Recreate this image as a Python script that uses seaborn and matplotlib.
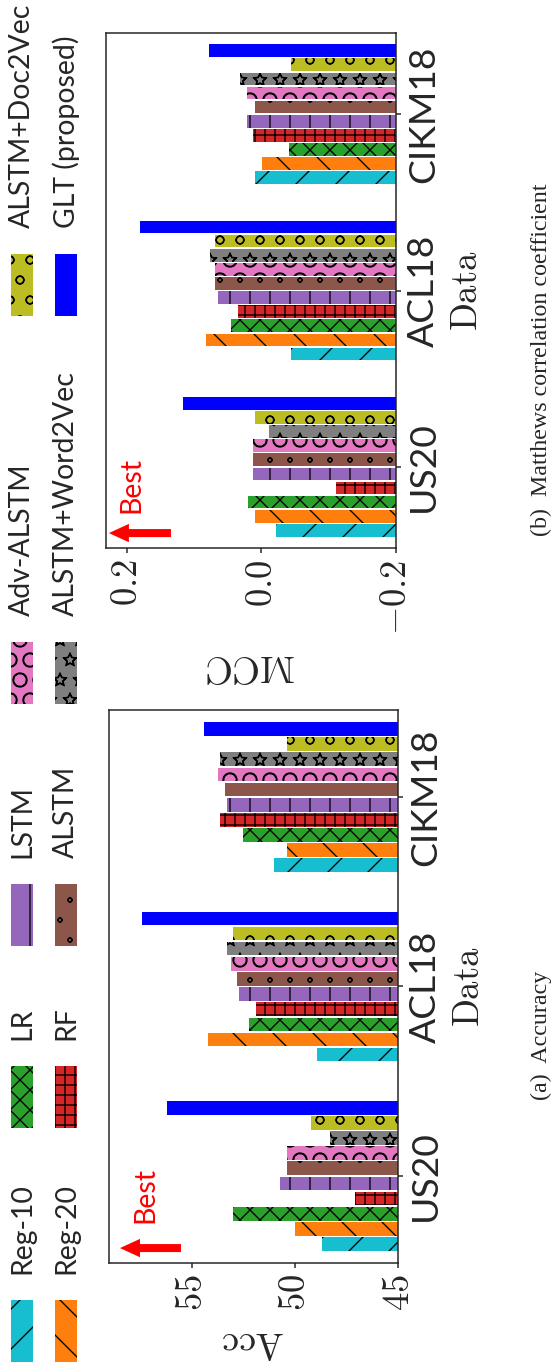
import matplotlib
matplotlib.use("Agg")
import matplotlib.pyplot as plt
import matplotlib.hatch as mhatch
from matplotlib.patches import Rectangle
import numpy as np
import pandas as pd
import seaborn as sns

# ---- data -------------------------------------------------------------
datasets = ["US20", "ACL18", "CIKM18"]
methods = ["Reg-10", "Reg-20", "LR", "RF", "LSTM", "ALSTM", "Adv-ALSTM",
           "ALSTM+Word2Vec", "ALSTM+Doc2Vec", "GLT (proposed)"]
colors = ["#17becf", "#ff7f0e", "#2ca02c", "#d62728", "#9467bd", "#8c564b",
          "#e377c2", "#7f7f7f", "#bcbd22", "#0000ff"]
hatches = ["//", "\\\\", "xxxx", "++++", "||", "..", "OO", "**", "oo", ""]

acc_us20 = [48.7, 50.0, 53.0, 47.1, 50.7, 50.4, 50.4, 48.3, 49.2, 56.2]
acc_acl18 = [48.9, 54.2, 52.2, 51.9, 52.7, 52.8, 53.1, 53.3, 53.0, 57.4]
acc_cikm18 = [51.0, 50.4, 52.5, 53.6, 53.3, 53.4, 53.7, 53.6, 50.4, 54.4]

mcc_us20 = [-0.021, 0.010, 0.020, -0.111, 0.013, 0.013, 0.013, -0.011, 0.010, 0.117]
mcc_acl18 = [-0.044, 0.083, 0.045, 0.035, 0.064, 0.069, 0.069, 0.076, 0.069, 0.181]
mcc_cikm18 = [0.009, -0.001, -0.041, 0.013, 0.022, 0.010, 0.022, 0.032, -0.044, 0.078]

acc_ticks = [45, 50, 55]
mcc_ticks = [-0.2, 0.0, 0.2]

df = pd.DataFrame({
    "Data": np.repeat(datasets, len(methods)),
    "Method": methods * len(datasets),
    "Acc": acc_us20 + acc_acl18 + acc_cikm18,
    "MCC": mcc_us20 + mcc_acl18 + mcc_cikm18,
})


# outlined (not solid) stars and dots for the '*' and '.' hatches
class OutlineStars(mhatch.Stars):
    filled = False


class OutlineDots(mhatch.SmallFilledCircles):
    filled = False


mhatch._hatch_types = [OutlineStars if t is mhatch.Stars else
                       OutlineDots if t is mhatch.SmallFilledCircles else t
                       for t in mhatch._hatch_types]

# ---- style ------------------------------------------------------------
sns.set_style("ticks")
plt.rcParams["font.family"] = ["Lato", "DejaVu Sans"]
plt.rcParams["mathtext.fontset"] = "cm"
plt.rcParams["hatch.linewidth"] = 0.4
plt.rcParams["axes.linewidth"] = 0.45
plt.rcParams["axes.edgecolor"] = "#222222"

W, H, DPI = 559, 1371, 240
fig = plt.figure(figsize=(W / DPI, H / DPI), dpi=DPI)


def fig_box(left, right, top, bottom):
    return [left / W, 1 - bottom / H, (right - left) / W, (bottom - top) / H]


def fx(px):
    return px / W


def fy(py):
    return 1 - py / H


def draw_panel(ax, col, base, lim, ticks, ticklabels, vlabel, best_xy):
    d = df.assign(length=df[col] - base)
    sns.barplot(data=d, x="length", y="Data", hue="Method", order=datasets,
                hue_order=methods, palette=colors, saturation=1, orient="h",
                errorbar=None, gap=0.1, left=base, edgecolor="black",
                linewidth=0, legend=False, ax=ax)
    for cont, h in zip(ax.containers, hatches):
        for bar in cont:
            bar.set_hatch(h)

    ax.set_xlim(lim, base)
    ax.set_ylim(-0.46, 2.46)
    for side in ["top", "right", "bottom", "left"]:
        ax.spines[side].set_visible(True)

    ax.set_xticks(ticks)
    ax.set_xticklabels(ticklabels, rotation=90, fontsize=11)
    ax.set_yticks(range(len(datasets)))
    ax.set_yticklabels(datasets, rotation=90, va="center", fontsize=11.2)
    ax.tick_params(axis="y", left=False, right=True, labelleft=False,
                   labelright=True, length=1.4, width=0.45, pad=2)
    ax.tick_params(axis="x", length=1.4, width=0.45, pad=2)

    ax.set_xlabel(vlabel, rotation=180, fontsize=11.5, labelpad=4)
    ax.yaxis.set_label_position("right")
    ax.set_ylabel(r"$\mathrm{Data}$", rotation=90, fontsize=11, labelpad=3)

    (hx, tx, ay, bx, by) = best_xy
    ax.annotate("", xy=(hx, ay), xytext=(tx, ay), xycoords="axes fraction",
                arrowprops=dict(arrowstyle="simple,head_length=0.6,head_width=0.55,tail_width=0.24",
                                color="red", mutation_scale=10, shrinkA=0, shrinkB=0,
                                linewidth=0))
    ax.text(bx, by, "Best", color="red", rotation=90, fontsize=8.5,
            ha="center", va="bottom", transform=ax.transAxes)


# (b) MCC panel (upper) and (a) accuracy panel (lower)
ax_b = fig.add_axes(fig_box(106, 396, 33, 548))
draw_panel(ax_b, "MCC", -0.2, 0.231, mcc_ticks,
           [r"$-0.2$", r"$0.0$", r"$0.2$"], r"$\mathrm{MCC}$",
           (0.01, 0.224, 0.029, 0.086, 0.068))

ax_a = fig.add_axes(fig_box(109, 398, 710, 1263))
draw_panel(ax_a, "Acc", 45, 59.0, acc_ticks,
           [r"$45$", r"$50$", r"$55$"], r"$\mathrm{Acc}$",
           (0.038, 0.249, 0.027, 0.125, 0.072))

# ---- legend (two columns of five entries) ------------------------------
col_x = [(11, 33), (55, 77)]
row_y = [(1300, 1362), (1066, 1128), (884, 946), (642, 704), (254, 316)]
for i, (name, c, h) in enumerate(zip(methods, colors, hatches)):
    row, col = i // 2, i % 2
    x0, x1 = col_x[col]
    y0, y1 = row_y[row]
    fig.patches.append(Rectangle((fx(x0), fy(y1)), fx(x1) - fx(x0), fy(y0) - fy(y1),
                                 transform=fig.transFigure, facecolor=c,
                                 edgecolor="black", linewidth=0, hatch=h))
    fig.text(fx((x0 + x1) / 2), fy(y0 - 26), name, rotation=90, fontsize=8.5,
             ha="center", va="bottom")

# ---- sub-captions ------------------------------------------------------
fig.text(fx(541), fy(1035), "(a)  Accuracy", rotation=90, fontsize=7.2,
         family="Liberation Serif", ha="center", va="center")
fig.text(fx(541), fy(360), "(b)  Matthews correlation coefficient", rotation=90,
         fontsize=7.2, family="Liberation Serif", ha="center", va="center")

fig.savefig("out.png", dpi=DPI)
